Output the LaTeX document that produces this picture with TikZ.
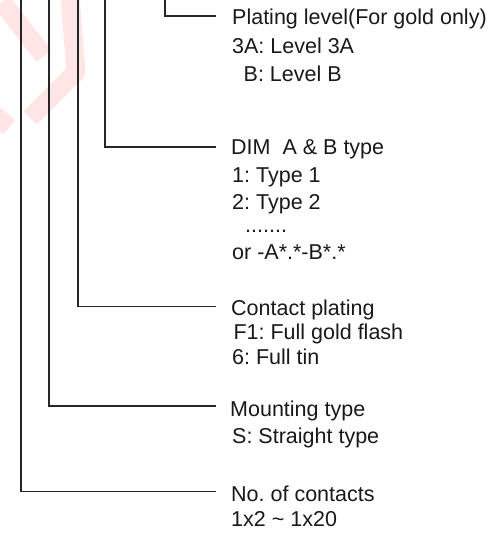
\documentclass[tikz,border=0pt]{standalone}
\usepackage{fontspec}
\setmainfont{Liberation Sans}
\frenchspacing
\begin{document}
\begin{tikzpicture}[x=1pt,y=-1pt,
  lbl/.style={anchor=base west, inner sep=0pt, font=\fontsize{21.5}{24}\selectfont, text=black!90},
  lead/.style={draw=black!85, line width=1.1pt},
  wm/.style={draw=red!10, line width=19pt, line cap=butt, line join=round}]
\useasboundingbox (0,0) rectangle (496,534);
% faint watermark remnant
\draw[wm] (2,2) -- (44,56);
\draw[wm] (70,-4) -- (76,72) -- (30,118);
\draw[wm] (-4,128) -- (8,114);
% leader line points
\coordinate (t5) at (165,0);   \coordinate (e5) at (216,16);
\coordinate (t4) at (105,0);   \coordinate (e4) at (216,147);
\coordinate (t3) at (78,0);    \coordinate (e3) at (216,306.5);
\coordinate (t2) at (49,0);    \coordinate (e2) at (216,406);
\coordinate (t1) at (21,0);    \coordinate (e1) at (216,491.5);
\draw[lead] (t5) |- (e5);
\draw[lead] (t4) |- (e4);
\draw[lead] (t3) |- (e3);
\draw[lead] (t2) |- (e2);
\draw[lead] (t1) |- (e1);
% texts
\node[lbl] (p0) at (232,25) {Plating level(For gold only)};
\node[lbl] (p1) at (232,53.5) {3A: Level 3A};
\node[lbl] (p2) at (243.5,82) {B: Level B};
\node[lbl] (d0) at (231,155) {DIM\ \ A \& B type};
\node[lbl] (d1) at (232,182.7) {1: Type 1};
\node[lbl] (d2) at (232,210) {2: Type 2};
\node[lbl] (d3) at (245,233) {.......};
\node[lbl] (d4) at (232,259.5) {or -A*.*-B*.*};
\node[lbl] (c0) at (231,315) {Contact plating};
\node[lbl] (c1) at (233.3,339) {F1: Full gold flash};
\node[lbl] (c2) at (232,364) {6: Full tin};
\node[lbl] (m0) at (230,416.7) {Mounting type};
\node[lbl] (m1) at (232,443) {S: Straight type};
\node[lbl] (n0) at (231,501.7) {No. of contacts};
\node[lbl] (n1) at (231,526.7) {1x2 \textasciitilde\ 1x20};
\end{tikzpicture}
\end{document}
